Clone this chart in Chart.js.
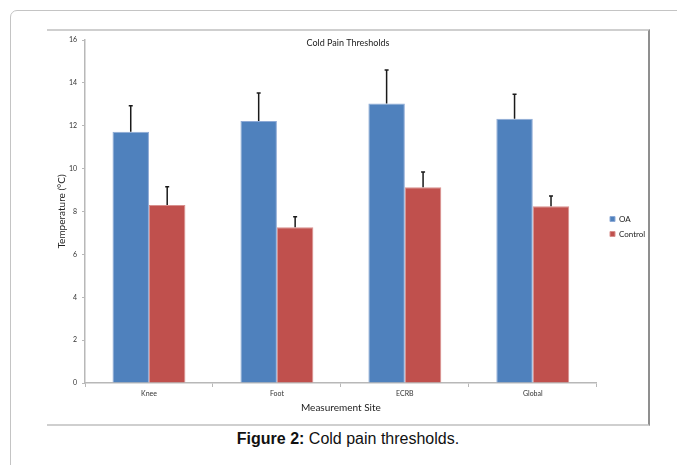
<!DOCTYPE html>
<html>
<head>
<meta charset="utf-8">
<script src="https://cdn.jsdelivr.net/npm/chart.js@4/dist/chart.umd.min.js"></script>
<style>
  html, body { margin: 0; padding: 0; background: #fff; }
  body { width: 677px; height: 465px; position: relative; overflow: hidden; }
  .frame { position: absolute; left: 10px; top: 10px; width: 720px; height: 520px;
           border: 1.5px solid #c4c4c4; border-top-left-radius: 7px; }
  .plotbox { position: absolute; left: 47px; top: 29px; width: 601px; height: 393px;
             border-top: 2px solid #cfcfcf; border-right: 2px solid #8f8f8f; border-bottom: 2px solid #cfcfcf; }
  .caption { position: absolute; left: 10px; width: 676px; top: 430px; text-align: center;
             font-family: "Liberation Sans", Arial, sans-serif; font-size: 16px; color: #111; }
  canvas { position: absolute; left: 0; top: 0; }
</style>
</head>
<body>
<div class="frame"></div>
<div class="plotbox"></div>
<div class="caption"><b>Figure 2:</b> Cold pain thresholds.</div>
<canvas id="chart" width="677" height="465"></canvas>
<script>
'use strict';

/* data */
const sites     = ['Knee', 'Foot', 'ECRB', 'Global'];
const oaMean    = [11.72, 12.22, 13.04, 12.33];
const oaErr     = [1.21, 1.31, 1.56, 1.14];
const ctrlMean  = [8.30, 7.26, 9.13, 8.24];
const ctrlErr   = [0.86, 0.50, 0.71, 0.48];
const yTicks    = [0, 2, 4, 6, 8, 10, 12, 14, 16];

const FONT = 'Lato, "Open Sans", sans-serif';
const PAD_L = 47, PAD_R = 28;
const LEGEND_X = 603, LEGEND_Y = 208;

/* error bars (upper half only, like the figure) */
const errorBars = {
  id: 'errorBars',
  afterDatasetsDraw(chart) {
    const { ctx, scales: { y } } = chart;
    ctx.save();
    ctx.strokeStyle = '#1a1a1a';
    ctx.lineWidth = 1.5;
    chart.data.datasets.forEach((ds, i) => {
      chart.getDatasetMeta(i).data.forEach((bar, j) => {
        const top = y.getPixelForValue(ds.data[j] + ds.errors[j]);
        ctx.beginPath();
        ctx.moveTo(bar.x, bar.y);
        ctx.lineTo(bar.x, top);
        ctx.moveTo(bar.x - 2, top);
        ctx.lineTo(bar.x + 2, top);
        ctx.stroke();
      });
    });
    ctx.restore();
  }
};

/* move legend to where Excel put it */
const legendSpot = {
  id: 'legendSpot',
  afterLayout(chart) {
    const lg = chart.legend;
    const dx = LEGEND_X - lg.left, dy = LEGEND_Y - lg.top;
    lg.left += dx; lg.right += dx;
    lg.top += dy; lg.bottom += dy;
  }
};

new Chart(document.getElementById('chart').getContext('2d'), {
  type: 'bar',
  data: {
    labels: sites,
    datasets: [
      {
        label: 'OA',
        data: oaMean,
        errors: oaErr,
        backgroundColor: '#4F81BD',
        borderColor: '#8EAAD6',
        borderWidth: 1,
        categoryPercentage: 0.57, barPercentage: 1.0,
      },
      {
        label: 'Control',
        data: ctrlMean,
        errors: ctrlErr,
        backgroundColor: '#C0504D',
        borderColor: '#D8908E',
        borderWidth: 1,
        categoryPercentage: 0.57, barPercentage: 1.0,
      },
    ],
  },
  options: {
    responsive: false,
    animation: false,
    layout: { padding: { left: PAD_L, right: PAD_R, top: 0, bottom: 51 } },
    plugins: {
      title: {
        display: true,
        text: 'Cold Pain Thresholds',
        color: '#222',
        font: { family: FONT, size: 9, weight: 'normal' },
        padding: { top: 38, bottom: -8.8 },
      },
      legend: {
        position: 'right',
        align: 'start',
        labels: {
          boxWidth: 5, boxHeight: 5, padding: 7,
          color: '#222',
          font: { family: FONT, size: 8 },
        },
      },
      tooltip: { enabled: false },
    },
    scales: {
      x: {
        grid: { drawOnChartArea: false, tickLength: 4, color: '#b8b8b8' },
        border: { color: '#b8b8b8', width: 1.5 },
        ticks: { font: { family: FONT, size: 7 }, color: '#333', padding: 3, maxRotation: 0 },
        title: {
          display: true, text: 'Measurement Site', color: '#222',
          font: { family: FONT, size: 10 }, padding: { top: 0, bottom: 0 },
        },
        afterFit: s => { s.height = 31; },
      },
      y: {
        min: 0, max: 16,
        afterBuildTicks: s => { s.ticks = yTicks.map(v => ({ value: v })); },
        grid: { drawOnChartArea: false, tickLength: 3, color: '#b8b8b8' },
        border: { color: '#b8b8b8', width: 1.5 },
        ticks: { font: { family: FONT, size: 7 }, color: '#333', padding: 5 },
        title: {
          display: true, text: 'Temperature (°C)', color: '#222',
          font: { family: FONT, size: 10 }, padding: { top: 9, bottom: 0 },
        },
        afterFit: s => { s.width = 85 - PAD_L; },
      },
    },
  },
  plugins: [errorBars, legendSpot],
});
</script>
</body>
</html>
